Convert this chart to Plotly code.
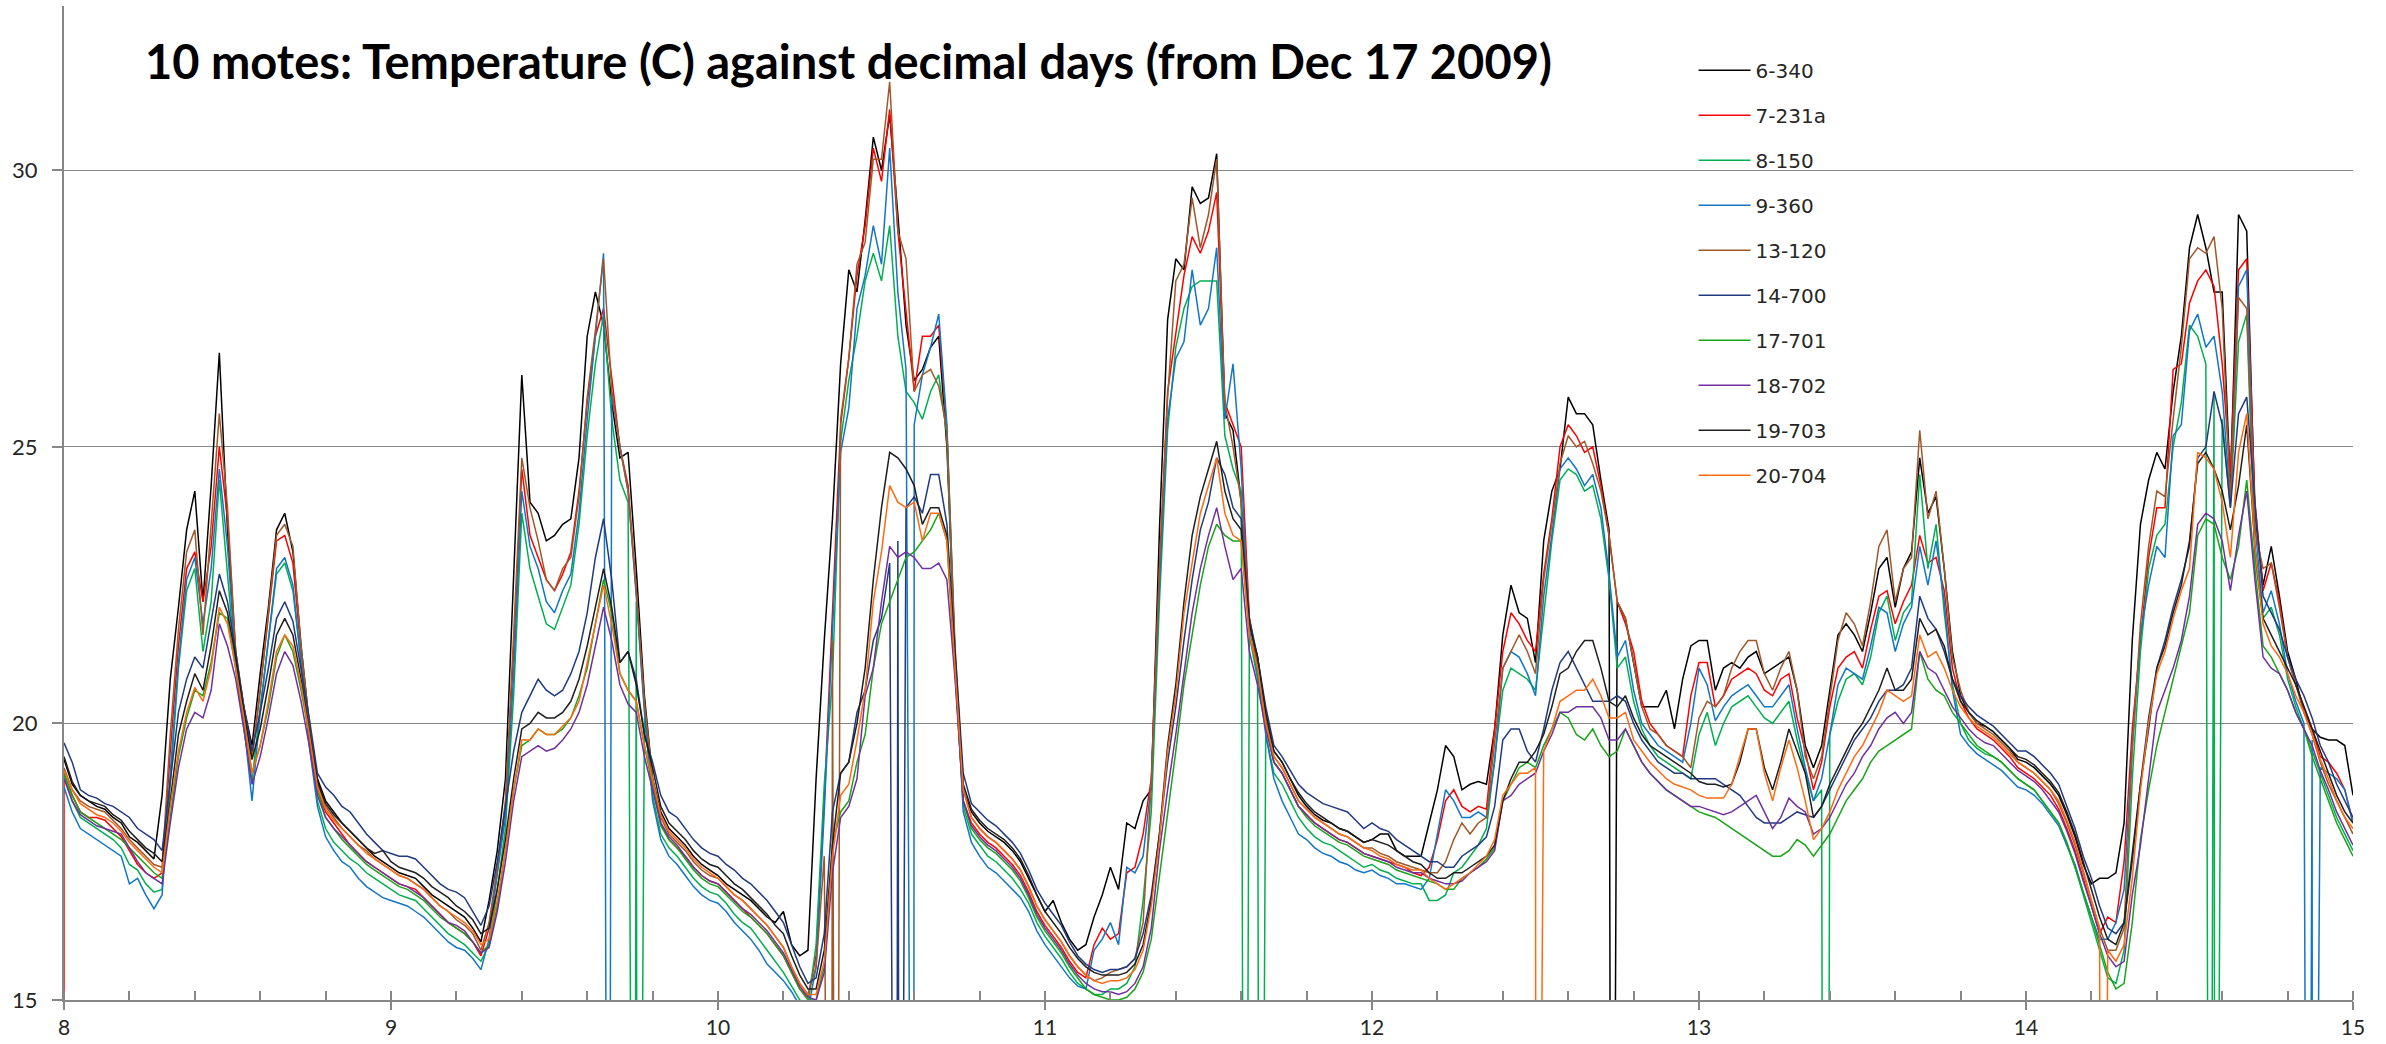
import numpy as np
import plotly.graph_objects as go

# decimal days (from Dec 17 2009), sampled every 0.025 day
days = np.round(np.arange(8.0, 15.0 + 1e-9, 0.025), 3).tolist()

series_names = ["6-340", "7-231a", "8-150", "9-360", "13-120",
                "14-700", "17-701", "18-702", "19-703", "20-704"]
series_colors = ["#000000", "#FF0000", "#00B050", "#1276C8", "#A0582A",
                 "#203A80", "#18A518", "#7030A0", "#1E1E1E", "#FF6A10"]

t_6_340 = [
    19.35, 18.9, 18.7, 18.6, 18.5, 18.45, 18.3, 18.2, 17.95, 17.85,
    17.7, 17.55, 18.7, 20.8, 22.1, 23.5, 24.2, 22.2, 24.3, 26.7,
    23.5, 21.2, 20.3, 19.6, 20.9, 22.1, 23.5, 23.8, 23.1, 21.4,
    20.0, 19.0, 18.6, 18.4, 18.2, 18.05, 17.9, 17.75, 17.6, 17.5,
    17.4, 17.3, 17.25, 17.2, 17.05, 16.9, 16.8, 16.7, 16.6, 16.5,
    16.3, 16.05, 16.8, 17.7, 19.0, 22.5, 26.3, 24.0, 23.8, 23.3,
    23.4, 23.6, 23.7, 24.8, 27.0, 27.8, 27.2, 25.8, 24.8, 24.9,
    22.8, 20.5, 19.0, 18.4, 18.1, 17.95, 17.8, 17.6, 17.45, 17.35,
    17.25, 17.1, 17.0, 16.9, 16.8, 16.65, 16.5, 16.4, 16.6, 16.0,
    15.8, 15.9, 19.0, 21.5, 23.7, 26.5, 28.2, 27.8, 29.1, 30.6,
    30.0, 31.0, 29.2, 27.2, 26.2, 26.4, 26.8, 27.0, 25.0, 21.2,
    18.8, 18.4, 18.2, 18.05, 17.95, 17.85, 17.7, 17.5, 17.2, 16.9,
    16.6, 16.8, 16.4, 16.1, 15.9, 16.0, 16.5, 16.9, 17.4, 17.0,
    18.2, 18.1, 18.6, 18.8, 23.5, 27.3, 28.4, 28.2, 29.7, 29.4,
    29.5, 30.3, 25.6, 25.3, 24.0, 21.8, 21.2, 20.1, 19.5, 19.3,
    19.0, 18.7, 18.5, 18.35, 18.25, 18.2, 18.1, 18.05, 17.95, 17.85,
    17.9, 18.0, 18.0, 17.7, 17.6, 17.6, 17.6, 18.2, 18.8, 19.6,
    19.4, 18.8, 18.9, 18.95, 18.9, 19.9, 21.6, 22.5, 22.0, 21.9,
    21.1, 23.3, 24.2, 24.6, 25.9, 25.6, 25.6, 25.4, 24.4, 23.5,
    22.2, 21.9, 21.1, 20.3, 20.3, 20.3, 20.6, 19.9, 20.8, 21.4,
    21.5, 21.5, 20.6, 21.0, 21.1, 21.0, 21.2, 21.3, 20.9, 21.0,
    21.1, 21.2, 20.6, 19.6, 19.2, 19.6, 20.6, 21.6, 21.8, 21.6,
    21.3, 22.0, 22.8, 23.0, 22.1, 22.8, 23.1, 24.8, 23.8, 24.1,
    22.8, 21.3, 20.5, 20.2, 20.0, 19.95, 19.85, 19.7, 19.55, 19.35,
    19.3, 19.2, 19.05, 18.9, 18.7, 18.35, 17.95, 17.45, 17.1, 17.2,
    17.2, 17.3, 18.2, 21.5, 23.6, 24.4, 24.9, 24.6, 26.0, 27.0,
    28.6, 29.2, 28.6, 27.8, 27.8, 24.3, 29.2, 28.9, 23.8, 22.5,
    23.2, 22.3, 21.3, 20.8, 20.2, 19.9, 19.75, 19.7, 19.7, 19.6,
    18.7]

t_7_231a = [
    19.1, 18.7, 18.4, 18.3, 18.3, 18.25, 18.1, 17.95, 17.7, 17.45,
    17.3, 17.2, 17.3, 19.5, 21.4, 22.8, 23.1, 22.2, 23.2, 25.0,
    23.7, 21.3, 20.2, 19.35, 20.6, 21.9, 23.3, 23.4, 22.9, 21.3,
    19.9, 18.8, 18.4, 18.2, 18.0, 17.8, 17.65, 17.5, 17.4, 17.3,
    17.2, 17.1, 17.05, 17.0, 16.85, 16.7, 16.55, 16.4, 16.3, 16.2,
    16.05, 15.8, 16.3, 17.3, 18.5, 21.3, 24.6, 23.4, 23.0, 22.6,
    22.4, 22.7, 23.1, 24.2, 25.8, 27.0, 27.5, 26.3, 25.0, 24.3,
    22.4, 20.3, 18.9, 18.2, 17.9, 17.75, 17.6, 17.4, 17.25, 17.15,
    17.1, 16.95, 16.8, 16.65, 16.5, 16.35, 16.2, 16.0, 15.8, 15.5,
    15.2, 15.05, 15.8, 18.6, 22.0, 25.4, 26.6, 28.1, 29.0, 30.4,
    29.8, 31.1, 28.9, 27.4, 26.0, 27.0, 27.0, 27.2, 25.3, 21.0,
    18.6, 18.2, 18.0, 17.85, 17.75, 17.6, 17.45, 17.25, 16.95, 16.6,
    16.35, 16.15, 15.95, 15.7, 15.5, 15.4, 16.0, 16.3, 16.1, 16.2,
    17.3, 17.4, 18.0, 19.0, 22.8, 26.0, 27.1, 28.1, 28.8, 28.5,
    28.9, 29.6, 25.8, 25.4, 25.0, 21.9, 21.0, 20.0, 19.3, 19.1,
    18.8, 18.5, 18.35, 18.2, 18.1, 18.0, 17.9, 17.85, 17.75, 17.65,
    17.6, 17.55, 17.5, 17.45, 17.4, 17.3, 17.25, 17.4, 17.9, 18.6,
    18.8, 18.5, 18.4, 18.5, 18.45, 19.9, 21.3, 22.0, 21.8, 21.5,
    21.3, 22.7, 23.7, 25.0, 25.4, 25.2, 24.9, 25.0, 24.3, 23.4,
    22.2, 21.8, 21.3, 20.4, 20.0, 19.8, 19.6, 19.5, 19.4, 20.5,
    21.1, 21.1, 20.3, 20.5, 20.8, 20.9, 21.0, 20.9, 20.6, 20.5,
    20.8, 20.9, 20.1, 19.5, 18.8, 19.3, 20.3, 21.0, 21.2, 21.3,
    21.0, 21.7, 22.3, 22.4, 21.8, 22.2, 22.5, 23.4, 22.9, 23.0,
    22.4, 21.0, 20.4, 20.1, 19.9, 19.8, 19.7, 19.55, 19.4, 19.2,
    19.1, 19.0, 18.85, 18.7, 18.45, 18.1, 17.7, 17.2, 16.7, 16.2,
    16.5, 16.4, 17.5, 19.9, 21.5, 23.0, 23.9, 23.9, 26.4, 26.5,
    27.6, 28.0, 28.2, 27.9, 26.5, 24.5, 28.2, 28.4, 24.0, 22.4,
    22.9, 22.2, 21.2, 20.7, 20.3, 19.9, 19.4, 19.3, 19.1, 18.8,
    18.2]

t_8_150 = [
    19.05, 18.6, 18.3, 18.2, 18.1, 18.0, 17.9, 17.75, 17.45, 17.35,
    17.1, 16.95, 17.0, 18.9, 21.0, 22.4, 22.8, 21.3, 22.2, 24.4,
    22.7, 21.0, 19.9, 18.95, 20.3, 21.5, 22.7, 22.9, 22.4, 21.1,
    19.7, 18.6, 18.1, 17.85, 17.7, 17.55, 17.45, 17.3, 17.2, 17.1,
    17.0, 16.9, 16.85, 16.8, 16.65, 16.5, 16.35, 16.2, 16.1, 16.0,
    15.85, 15.7, 16.0, 17.0, 18.1, 20.5, 23.8, 22.8, 22.3, 21.8,
    21.7, 22.1, 22.5, 23.6, 25.2, 26.5, 27.4, 25.5, 24.4, 24.0,
    22.2, 20.1, 18.7, 18.0, 17.75, 17.6, 17.4, 17.2, 17.05, 16.95,
    16.9, 16.75, 16.55, 16.4, 16.3, 16.1, 15.9, 15.7, 15.5, 15.25,
    15.0, 14.9, 16.0, 18.9, 20.8, 25.1, 26.2, 27.0, 28.0, 28.5,
    28.0, 29.0, 27.0, 26.0, 25.8, 25.5, 26.0, 26.3, 25.2, 21.0,
    18.5, 18.0, 17.8, 17.6, 17.5, 17.35, 17.2, 17.0, 16.75, 16.4,
    16.15, 15.95, 15.75, 15.5, 15.3, 15.2, 15.1, 15.1, 15.2, 15.2,
    15.3, 15.6, 16.8, 18.4, 22.2, 25.3, 26.8, 27.5, 27.9, 28.0,
    28.0, 28.0, 25.2, 24.6, 24.2, 21.6, 20.8, 19.8, 19.1, 18.9,
    18.6, 18.3, 18.1, 17.95, 17.85, 17.8, 17.7, 17.6, 17.5, 17.4,
    17.45, 17.35, 17.3, 17.2, 17.15, 17.1, 17.1, 16.8, 16.8, 16.9,
    17.3, 17.4, 17.6, 17.8, 18.1, 19.4, 20.6, 21.0, 20.9, 20.8,
    20.6, 22.0, 23.3, 24.4, 24.6, 24.5, 24.2, 24.3, 23.7, 22.6,
    21.0, 21.2, 20.4, 19.9, 19.6, 19.4, 19.3, 19.2, 19.1, 19.0,
    19.8, 20.2, 19.6, 20.0, 20.3, 20.4, 20.5, 20.3, 20.1, 20.0,
    20.2, 20.4, 19.7, 19.1, 18.6, 18.8, 19.8, 20.4, 20.8, 20.9,
    20.7, 21.2, 22.0, 22.3, 21.5, 22.0, 22.2, 24.5, 22.8, 23.6,
    22.0, 20.7, 20.0, 19.7, 19.55, 19.45, 19.4, 19.3, 19.15, 19.0,
    18.9, 18.8, 18.6, 18.4, 18.2, 17.8, 17.4, 16.9, 16.4, 15.9,
    15.4, 15.3, 15.9, 19.0, 21.3, 22.8, 23.4, 23.6, 25.0, 25.8,
    27.2, 27.0, 26.5, 26.0, 25.5, 23.9, 26.9, 27.4, 23.0, 21.9,
    22.1, 21.6, 20.8, 20.3, 19.9, 19.5, 19.1, 18.7, 18.3, 18.0,
    17.7]

t_9_360 = [
    18.85, 18.4, 18.1, 18.0, 17.9, 17.8, 17.7, 17.6, 17.1, 17.2,
    16.9, 16.65, 16.9, 19.1, 21.1, 22.6, 23.0, 21.8, 22.8, 24.6,
    23.2, 21.1, 20.0, 18.6, 20.2, 21.5, 22.8, 23.0, 22.5, 21.1,
    19.6, 18.5, 17.95, 17.7, 17.5, 17.4, 17.2, 17.05, 16.95, 16.85,
    16.8, 16.75, 16.7, 16.6, 16.5, 16.35, 16.2, 16.05, 15.95, 15.9,
    15.75, 15.55, 16.1, 17.3, 18.3, 20.9, 24.2, 23.2, 22.8, 22.2,
    22.0, 22.4, 22.7, 23.8, 25.5, 27.0, 28.5, 26.0, 25.0, 24.2,
    22.3, 20.2, 18.6, 17.9, 17.6, 17.45, 17.25, 17.05, 16.9, 16.8,
    16.75, 16.6, 16.4, 16.25, 16.1, 15.9, 15.65, 15.5, 15.35, 15.15,
    14.9, 14.8, 15.6, 18.4, 21.6, 24.9, 25.7, 27.5, 28.1, 29.0,
    28.3, 30.4, 27.8, 26.4, 25.4, 26.3, 26.8, 27.4, 25.4, 21.2,
    18.4, 17.85, 17.6, 17.4, 17.3, 17.15, 17.0, 16.85, 16.6, 16.25,
    16.0, 15.8, 15.6, 15.4, 15.25, 15.2, 15.9, 16.1, 16.4, 16.0,
    17.4, 17.3, 17.6, 18.9, 22.5, 25.5, 26.6, 26.9, 28.2, 27.2,
    27.5, 28.6, 25.5, 26.5, 24.6, 21.7, 20.9, 19.8, 19.0, 18.6,
    18.3, 18.0, 17.9, 17.75, 17.65, 17.6, 17.5, 17.45, 17.35, 17.3,
    17.35, 17.25, 17.2, 17.1, 17.1, 17.05, 17.0, 17.2, 18.0, 18.8,
    18.6, 18.3, 18.3, 18.4, 18.3, 19.3, 21.0, 21.3, 21.2, 20.9,
    20.5, 22.3, 23.4, 24.6, 24.8, 24.6, 24.3, 24.5, 23.9, 22.7,
    21.2, 21.5, 20.6, 20.0, 19.8, 19.6, 19.5, 19.4, 19.3, 20.0,
    21.0, 20.7, 20.05, 20.3, 20.5, 20.6, 20.7, 20.5, 20.3, 20.3,
    20.5, 20.7, 19.9, 19.2, 18.6, 19.0, 19.8, 20.7, 21.0, 20.9,
    20.8, 21.4, 22.1, 22.0, 21.3, 21.8, 22.1, 23.2, 22.5, 23.3,
    22.2, 20.6, 19.8, 19.6, 19.45, 19.35, 19.25, 19.15, 19.0, 18.85,
    18.8, 18.7, 18.55, 18.35, 18.15, 17.8, 17.45, 16.95, 16.5, 16.1,
    16.1, 16.4, 17.0, 19.6, 21.6, 22.5, 23.2, 23.0, 25.2, 25.4,
    27.1, 27.4, 26.8, 27.0, 26.0, 24.0, 27.9, 28.2, 23.6, 22.0,
    22.4, 21.8, 20.9, 20.4, 20.0, 19.7, 19.2, 19.1, 19.0, 18.8,
    18.2]

t_13_120 = [
    19.2, 18.8, 18.6, 18.5, 18.45, 18.4, 18.25, 18.1, 17.9, 17.75,
    17.6, 17.45, 17.4, 19.8, 21.7, 23.1, 23.5, 21.6, 23.6, 25.6,
    23.9, 21.3, 20.3, 19.4, 20.6, 22.0, 23.4, 23.6, 23.2, 21.4,
    20.0, 18.9, 18.5, 18.3, 18.1, 17.95, 17.8, 17.7, 17.55, 17.45,
    17.35, 17.25, 17.2, 17.1, 17.0, 16.85, 16.7, 16.6, 16.45, 16.35,
    16.2, 15.9, 16.4, 17.4, 18.6, 21.6, 24.8, 23.9, 23.3, 22.6,
    22.4, 22.8, 23.0, 24.1, 25.9, 27.1, 28.4, 26.0, 25.0, 24.2,
    22.4, 20.4, 19.0, 18.3, 18.0, 17.85, 17.7, 17.5, 17.35, 17.25,
    17.2, 17.05, 16.9, 16.8, 16.65, 16.5, 16.35, 16.15, 15.95, 15.6,
    15.3, 15.1, 15.6, 17.6, 21.5, 25.5, 26.6, 28.3, 28.7, 30.2,
    30.2, 31.6, 28.9, 28.4, 26.0, 26.3, 26.4, 26.1, 25.3, 21.4,
    18.8, 18.3, 18.1, 17.95, 17.85, 17.7, 17.55, 17.35, 17.05, 16.7,
    16.45, 16.25, 16.05, 15.8, 15.6, 15.45, 15.35, 15.4, 15.5, 15.55,
    15.6, 15.75, 16.4, 18.9, 22.8, 25.9, 28.0, 28.3, 29.5, 28.6,
    29.2, 30.2, 25.8, 25.0, 24.0, 21.9, 21.1, 20.1, 19.4, 19.2,
    18.9, 18.6, 18.45, 18.3, 18.2, 18.1, 18.0, 17.95, 17.85, 17.75,
    17.75, 17.65, 17.6, 17.5, 17.45, 17.4, 17.35, 17.3, 17.3, 17.5,
    17.9, 18.2, 18.0, 18.2, 18.3, 19.7, 21.0, 21.3, 21.6, 21.3,
    20.9, 22.6, 23.6, 24.7, 25.2, 25.0, 25.1, 24.7, 24.2, 23.4,
    22.2, 21.9, 21.1, 20.3, 19.9, 19.8, 19.6, 19.5, 19.4, 19.2,
    20.1, 20.4, 20.3, 20.5, 21.0, 21.3, 21.5, 21.5, 20.9, 20.6,
    21.0, 21.3, 20.6, 19.4, 19.0, 19.4, 20.5, 21.5, 22.0, 21.8,
    21.4, 22.2, 23.2, 23.5, 22.2, 22.8, 23.0, 25.3, 23.7, 24.2,
    22.8, 21.2, 20.6, 20.2, 20.0, 19.9, 19.8, 19.65, 19.5, 19.3,
    19.2, 19.1, 18.95, 18.8, 18.55, 18.2, 17.8, 17.3, 16.8, 16.3,
    15.9, 15.9, 16.3, 19.5, 21.8, 23.2, 24.2, 24.1, 25.5, 26.8,
    28.4, 28.6, 28.5, 28.8, 27.5, 24.0, 27.7, 27.5, 23.5, 22.8,
    22.9, 22.1, 21.2, 20.7, 20.2, 19.8, 19.3, 18.9, 18.6, 18.3,
    18.0]

t_14_700 = [
    19.65, 19.3, 18.8, 18.7, 18.65, 18.55, 18.5, 18.4, 18.3, 18.1,
    18.0, 17.9, 17.7, 18.9, 20.2, 20.8, 21.2, 21.0, 21.85, 22.7,
    22.2, 21.3, 20.3, 19.5, 20.2, 21.0, 21.9, 22.2, 21.85, 21.0,
    20.1, 19.1, 18.85, 18.7, 18.5, 18.4, 18.2, 18.0, 17.85, 17.7,
    17.65, 17.6, 17.6, 17.55, 17.4, 17.25, 17.1, 17.0, 16.95, 16.85,
    16.6, 16.35, 16.7, 17.5, 18.5, 19.5, 20.2, 20.5, 20.8, 20.6,
    20.5, 20.6, 20.9, 21.3, 22.0, 23.0, 23.7, 22.6, 21.1, 21.3,
    20.8, 19.8, 19.3, 18.7, 18.4, 18.3, 18.1, 17.9, 17.75, 17.65,
    17.6, 17.45, 17.35, 17.2, 17.1, 16.95, 16.8, 16.6, 16.4, 16.0,
    15.6, 15.3, 15.4, 16.2, 18.4, 19.1, 19.3, 20.2, 20.6, 21.5,
    21.9, 22.9, 23.3, 23.9, 24.1, 23.8, 24.5, 24.5, 23.6, 21.3,
    19.1, 18.55, 18.4, 18.25, 18.15, 18.0, 17.85, 17.65, 17.35, 17.0,
    16.75, 16.55, 16.35, 16.05, 15.8, 15.65, 15.55, 15.5, 15.55, 15.55,
    15.6, 15.75, 16.2, 16.9, 18.0, 19.3, 20.3, 21.5, 22.6, 23.5,
    24.0, 24.8, 24.5, 23.9, 23.7, 21.9, 21.2, 20.3, 19.6, 19.4,
    19.15, 18.9, 18.75, 18.65, 18.55, 18.5, 18.45, 18.4, 18.25, 18.1,
    18.2, 18.1, 18.05, 17.9, 17.8, 17.7, 17.6, 17.5, 17.5, 17.4,
    17.4, 17.6, 17.7, 17.8, 17.95, 18.5, 19.7, 19.9, 19.9, 19.5,
    19.3, 19.9, 20.6, 21.1, 21.3, 21.0, 20.7, 20.4, 20.4, 20.4,
    20.5, 20.4, 20.0, 19.7, 19.5, 19.3, 19.2, 19.1, 19.1, 19.0,
    19.0, 19.0, 19.0, 18.9, 18.8, 18.7, 18.5, 18.3, 18.2, 18.2,
    18.2, 18.3, 18.4, 18.35, 18.3, 18.5, 18.8, 19.1, 19.4, 19.7,
    19.9, 20.1, 20.4, 20.6, 20.6, 20.7, 21.0, 22.3, 21.9, 21.7,
    21.3, 20.8, 20.5, 20.3, 20.15, 20.05, 19.95, 19.8, 19.65, 19.5,
    19.5, 19.4, 19.25, 19.1, 18.9, 18.5, 18.1, 17.6, 17.2, 16.7,
    16.3, 16.2, 16.4, 17.5, 18.9, 20.1, 21.0, 21.5, 22.1, 22.6,
    23.2, 24.8, 25.0, 26.0, 25.4, 23.9, 25.6, 25.9, 24.0, 22.3,
    22.0, 21.7, 21.2, 20.8, 20.5, 20.1, 19.6, 19.3, 18.9, 18.6,
    18.3]

t_17_701 = [
    19.1, 18.7, 18.4, 18.3, 18.2, 18.1, 18.0, 17.9, 17.75, 17.6,
    17.45, 17.3, 17.2, 18.3, 19.4, 20.1, 20.6, 20.5, 21.1, 22.0,
    21.9, 21.0, 20.1, 19.1, 19.6, 20.3, 21.2, 21.6, 21.3, 20.6,
    19.8, 18.8, 18.3, 18.1, 17.9, 17.75, 17.6, 17.45, 17.35, 17.25,
    17.15, 17.05, 17.0, 16.9, 16.8, 16.65, 16.5, 16.4, 16.3, 16.2,
    16.05, 15.85, 16.0, 16.7, 17.7, 18.8, 19.6, 19.7, 19.9, 19.8,
    19.8, 19.9, 20.1, 20.5, 21.0, 21.8, 22.6, 22.0, 20.9, 20.6,
    20.4, 19.6, 18.9, 18.15, 17.9, 17.75, 17.55, 17.35, 17.2, 17.1,
    17.05, 16.9, 16.75, 16.6, 16.5, 16.35, 16.2, 16.0, 15.8, 15.5,
    15.2, 15.0, 15.0, 15.6, 17.8, 18.4, 18.6, 19.3, 19.8, 21.0,
    21.8, 22.2, 22.6, 23.0, 23.1, 23.3, 23.5, 23.8, 23.3, 20.9,
    18.6, 18.1, 17.9, 17.75, 17.65, 17.5, 17.35, 17.15, 16.85, 16.5,
    16.25, 16.05, 15.85, 15.6, 15.4, 15.2, 15.1, 15.05, 15.0, 15.0,
    15.05, 15.2, 15.5, 16.1, 17.2, 18.3, 19.5, 20.7, 21.6, 22.5,
    23.2, 23.6, 23.4, 23.3, 23.3, 21.6, 21.0, 20.0, 19.3, 19.1,
    18.8, 18.5, 18.3, 18.15, 18.05, 17.95, 17.85, 17.8, 17.7, 17.6,
    17.55, 17.5, 17.45, 17.35, 17.3, 17.25, 17.2, 17.15, 17.1, 17.0,
    17.0, 17.2, 17.3, 17.4, 17.55, 17.75, 18.6, 18.9, 19.2, 19.3,
    19.2, 19.6, 19.9, 20.2, 20.1, 19.8, 19.7, 19.9, 19.6, 19.4,
    19.5, 19.9, 19.6, 19.3, 19.1, 18.95, 18.8, 18.7, 18.6, 18.5,
    18.4, 18.35, 18.3, 18.2, 18.1, 18.0, 17.9, 17.8, 17.7, 17.6,
    17.6, 17.7, 17.9, 17.8, 17.6, 17.8, 18.0, 18.3, 18.6, 18.8,
    19.0, 19.3, 19.5, 19.6, 19.7, 19.8, 19.9, 21.3, 20.8, 20.6,
    20.5, 20.2, 20.0, 19.8, 19.6, 19.5, 19.4, 19.3, 19.15, 19.0,
    18.9, 18.8, 18.6, 18.4, 18.2, 17.85, 17.4, 16.95, 16.5, 16.0,
    15.5, 15.2, 15.3, 16.4, 17.9, 18.8, 19.6, 20.2, 20.8, 21.4,
    22.0, 23.4, 23.7, 23.6, 23.0, 22.6, 23.2, 24.4, 22.8, 21.4,
    21.2, 20.9, 20.6, 20.2, 19.9, 19.4, 19.0, 18.6, 18.2, 17.9,
    17.6]

t_18_702 = [
    19.0, 18.6, 18.35, 18.25, 18.15, 18.1, 18.05, 18.0, 17.75, 17.5,
    17.3, 17.2, 17.1, 18.2, 19.2, 19.9, 20.2, 20.1, 20.6, 21.8,
    21.4, 20.8, 19.9, 18.9, 19.4, 20.1, 20.9, 21.3, 21.05, 20.4,
    19.6, 18.7, 18.3, 18.1, 17.95, 17.8, 17.65, 17.5, 17.4, 17.3,
    17.2, 17.1, 17.05, 16.95, 16.85, 16.7, 16.55, 16.4, 16.35, 16.25,
    16.05, 15.85, 15.95, 16.6, 17.5, 18.6, 19.4, 19.5, 19.6, 19.5,
    19.55, 19.7, 19.9, 20.2, 20.7, 21.4, 22.1, 21.5, 20.7, 20.35,
    20.2, 19.4, 18.8, 18.2, 17.95, 17.8, 17.6, 17.4, 17.25, 17.15,
    17.1, 16.95, 16.8, 16.65, 16.55, 16.4, 16.25, 16.05, 15.85, 15.55,
    15.25, 15.05, 15.0, 15.5, 17.3, 18.3, 18.5, 19.0, 20.5, 21.0,
    22.2, 23.2, 23.0, 23.1, 23.0, 22.8, 22.8, 22.9, 22.6, 20.8,
    18.6, 18.15, 17.95, 17.8, 17.7, 17.55, 17.4, 17.2, 16.9, 16.55,
    16.3, 16.1, 15.9, 15.65, 15.45, 15.3, 15.2, 15.15, 15.15, 15.1,
    15.15, 15.3, 15.6, 16.3, 17.7, 18.8, 19.8, 20.9, 22.0, 22.8,
    23.4, 23.9, 23.2, 22.6, 22.8, 21.3, 20.7, 19.9, 19.3, 19.1,
    18.8, 18.5, 18.35, 18.2, 18.1, 18.0, 17.9, 17.85, 17.75, 17.65,
    17.6, 17.55, 17.5, 17.4, 17.35, 17.3, 17.3, 17.2, 17.15, 17.1,
    17.1, 17.15, 17.3, 17.4, 17.5, 17.7, 18.6, 18.7, 18.9, 19.0,
    19.1, 19.5, 19.8, 20.2, 20.2, 20.3, 20.3, 20.3, 20.1, 19.7,
    19.7, 19.9, 19.6, 19.3, 19.1, 18.95, 18.8, 18.7, 18.6, 18.5,
    18.5, 18.45, 18.4, 18.35, 18.4, 18.5, 18.6, 18.7, 18.4, 18.1,
    18.3, 18.65, 18.5, 18.4, 18.0, 18.1, 18.3, 18.6, 18.9, 19.1,
    19.4, 19.6, 19.9, 20.1, 20.2, 20.0, 20.2, 21.3, 21.0, 20.9,
    20.6, 20.3, 20.1, 19.9, 19.75, 19.65, 19.6, 19.45, 19.3, 19.15,
    19.05, 18.95, 18.8, 18.6, 18.4, 18.05, 17.65, 17.15, 16.7, 16.2,
    15.8, 15.6, 15.7, 16.9, 17.8, 19.0, 20.2, 20.6, 21.0, 21.5,
    22.3, 23.6, 23.8, 23.7, 23.3, 22.4, 23.4, 24.2, 22.6, 21.2,
    21.0, 20.9, 20.6, 20.2, 19.9, 19.6, 19.15, 18.8, 18.4, 18.1,
    17.8]

t_19_703 = [
    19.4, 18.95, 18.7, 18.6, 18.55, 18.5, 18.35, 18.25, 18.05, 17.9,
    17.75, 17.65, 17.5, 18.6, 19.8, 20.4, 20.9, 20.6, 21.4, 22.4,
    22.0, 21.2, 20.2, 19.35, 19.9, 20.7, 21.6, 21.9, 21.6, 20.8,
    19.9, 18.95, 18.55, 18.35, 18.2, 18.05, 17.9, 17.75, 17.65, 17.7,
    17.5, 17.4, 17.35, 17.3, 17.2, 17.05, 16.95, 16.85, 16.7, 16.6,
    16.45, 16.2, 16.3, 17.0, 17.9, 19.0, 19.9, 20.0, 20.2, 20.1,
    20.1, 20.2, 20.4, 20.8, 21.4, 22.1, 22.8, 22.1, 21.1, 21.3,
    20.7, 19.8, 19.2, 18.5, 18.2, 18.05, 17.9, 17.7, 17.55, 17.45,
    17.4, 17.25, 17.1, 17.0, 16.85, 16.7, 16.55, 16.35, 16.2, 15.8,
    15.45, 15.2, 15.2, 15.9, 17.8, 19.1, 19.3, 20.0, 21.0, 22.6,
    23.9, 24.9, 24.8, 24.6, 24.3, 23.6, 23.9, 23.9, 23.4, 21.2,
    18.9, 18.45, 18.25, 18.1, 18.0, 17.9, 17.75, 17.55, 17.25, 16.9,
    16.6, 16.4, 16.2, 15.95, 15.75, 15.6, 15.5, 15.45, 15.45, 15.45,
    15.5, 15.65, 16.0, 16.8, 18.0, 19.6, 20.7, 22.2, 23.4, 24.1,
    24.6, 25.1, 24.2, 23.7, 23.5, 21.8, 21.2, 20.2, 19.5, 19.3,
    19.0, 18.75, 18.55, 18.4, 18.3, 18.2, 18.1, 18.05, 17.95, 17.85,
    17.9, 17.85, 17.8, 17.7, 17.6, 17.5, 17.45, 17.3, 17.2, 17.2,
    17.3, 17.3, 17.4, 17.5, 17.6, 17.8, 18.6, 19.0, 19.3, 19.3,
    19.5, 19.8, 20.3, 20.9, 21.0, 21.3, 21.5, 21.5, 21.0, 20.4,
    20.3, 20.5, 20.1, 19.8, 19.6, 19.5, 19.4, 19.3, 19.2, 19.1,
    18.95, 18.9, 18.9, 18.85, 18.9, 19.3, 19.9, 19.9, 19.2, 18.8,
    19.3, 19.9, 19.5, 19.1, 18.3, 18.5, 18.9, 19.2, 19.5, 19.8,
    20.0, 20.3, 20.6, 21.0, 20.6, 20.6, 20.8, 21.9, 21.6, 21.7,
    21.4, 20.8, 20.4, 20.2, 20.05, 19.95, 19.85, 19.7, 19.55, 19.4,
    19.35, 19.25, 19.1, 18.95, 18.75, 18.4, 18.0, 17.5, 17.0, 16.5,
    16.1, 16.0, 16.4, 17.6, 18.9, 19.9, 21.0, 21.4, 22.0, 22.5,
    23.3, 24.7, 24.9, 24.6, 24.2, 23.5, 24.3, 25.4, 23.2, 21.9,
    21.6, 21.3, 21.0, 20.7, 20.3, 19.9, 19.5, 19.1, 18.7, 18.4,
    18.2]

t_20_704 = [
    19.15, 18.8, 18.55, 18.45, 18.35, 18.3, 18.2, 18.05, 17.85, 17.7,
    17.55, 17.4, 17.3, 18.5, 19.5, 20.2, 20.65, 20.4, 21.0, 22.1,
    21.8, 21.0, 20.1, 19.1, 19.6, 20.4, 21.3, 21.6, 21.4, 20.7,
    19.8, 18.85, 18.45, 18.25, 18.1, 17.95, 17.8, 17.65, 17.55, 17.45,
    17.35, 17.25, 17.2, 17.1, 17.0, 16.85, 16.7, 16.6, 16.5, 16.4,
    16.25, 16.0, 16.1, 16.8, 17.7, 18.8, 19.7, 19.7, 19.9, 19.8,
    19.8, 19.95, 20.1, 20.4, 21.1, 21.8, 22.5, 21.8, 20.9, 20.6,
    20.4, 19.6, 19.0, 18.35, 18.05, 17.9, 17.75, 17.55, 17.4, 17.3,
    17.2, 17.05, 16.9, 16.8, 16.65, 16.5, 16.35, 16.15, 15.95, 15.6,
    15.3, 15.1, 15.1, 15.7, 17.6, 18.7, 18.9, 19.7, 20.6, 22.2,
    23.1, 24.3, 24.0, 23.9, 24.0, 23.3, 23.8, 23.8, 23.3, 21.0,
    18.8, 18.3, 18.1, 17.95, 17.85, 17.7, 17.55, 17.35, 17.05, 16.7,
    16.45, 16.25, 16.05, 15.8, 15.6, 15.45, 15.35, 15.3, 15.35, 15.35,
    15.4, 15.55, 15.9, 16.7, 17.9, 19.5, 20.5, 22.0, 22.9, 23.8,
    24.3, 24.8, 23.8, 23.4, 23.3, 21.6, 21.0, 20.0, 19.4, 19.2,
    18.9, 18.6, 18.45, 18.3, 18.2, 18.1, 18.0, 17.95, 17.85, 17.75,
    17.7, 17.6, 17.55, 17.45, 17.4, 17.35, 17.35, 17.2, 17.1, 17.0,
    17.1, 17.2, 17.3, 17.45, 17.6, 17.9, 18.7, 18.9, 19.1, 19.1,
    19.2, 19.5, 19.9, 20.4, 20.5, 20.6, 20.6, 20.8, 20.5, 20.1,
    20.1, 20.2, 19.7, 19.5, 19.3, 19.15, 19.0, 18.9, 18.85, 18.8,
    18.7, 18.65, 18.65, 18.65, 18.9, 19.4, 19.9, 19.9, 19.1, 18.6,
    19.2, 19.7, 19.2, 18.6, 17.9, 18.1, 18.4, 18.8, 19.1, 19.4,
    19.6, 19.9, 20.2, 20.6, 20.5, 20.4, 20.5, 21.6, 21.2, 21.3,
    21.0, 20.6, 20.3, 20.1, 19.95, 19.85, 19.75, 19.6, 19.45, 19.3,
    19.2, 19.1, 18.95, 18.8, 18.6, 18.25, 17.85, 17.35, 16.8, 16.3,
    15.9, 15.7, 16.0, 17.2, 18.8, 20.0, 20.9, 21.3, 21.9, 22.4,
    22.8, 24.9, 24.8, 24.6, 24.0, 23.0, 24.9, 25.6, 23.2, 21.8,
    21.4, 21.2, 20.9, 20.5, 20.2, 19.8, 19.35, 19.0, 18.6, 18.3,
    18.1]

# sensor dropouts (readings of 0 C) per mote: times in decimal days
dropouts = {
    "6-340": [12.733],
    "7-231a": [8.0],
    "8-150": [9.744, 9.754, 11.611, 11.658, 13.382, 13.392, 14.562, 14.578],
    "9-360": [9.665, 10.598, 14.863, 14.876],
    "13-120": [10.346, 10.361],
    "14-700": [10.545, 10.556],
    "20-704": [12.502, 14.232],
}

series_values = [t_6_340, t_7_231a, t_8_150, t_9_360, t_13_120,
                 t_14_700, t_17_701, t_18_702, t_19_703, t_20_704]

for nm, vals in zip(series_names, series_values):
    if len(vals) != len(days):
        raise ValueError(f"{nm}: {len(vals)} values vs {len(days)} days")

fig = go.Figure()
for nm, col, vals in zip(series_names, series_colors, series_values):
    pts = [(t, 1, v) for t, v in zip(days, vals)]
    pts += [(t, 0, 0.0) for t in dropouts.get(nm, [])]
    pts.sort(key=lambda p: (p[0], p[1]))
    fig.add_trace(go.Scatter(
        x=[p[0] for p in pts], y=[p[2] for p in pts],
        mode="lines", name=nm, legendgroup=nm,
        line=dict(color=col, width=1.5),
    ))

axis_gray = "#878787"
fig.update_layout(
    width=2386, height=1044,
    margin=dict(l=64, r=33, t=6, b=44, autoexpand=False),
    paper_bgcolor="white", plot_bgcolor="white",
    font=dict(family="Lato", size=22, color="#262626"),
    title=dict(
        text="10 motes: Temperature (C) against decimal days (from Dec 17 2009)",
        font=dict(family="Lato", size=47, color="#000000", weight="bold"),
        xref="container", yref="container",
        x=145 / 2386, xanchor="left", y=1 - 63 / 1044, yanchor="middle",
    ),
    showlegend=True,
    legend=dict(
        x=0.7119, y=0.955, xanchor="left", yanchor="top",
        bgcolor="rgba(0,0,0,0)", borderwidth=0,
        font=dict(family="DejaVu Sans", size=20, color="#262626"),
        itemwidth=52, tracegroupgap=16,
    ),
)
fig.update_xaxes(
    range=[8, 15], dtick=1, tick0=8, automargin=False,
    showgrid=False, zeroline=False,
    showline=True, linecolor=axis_gray, linewidth=2,
    ticks="outside", ticklen=8, tickwidth=1.5, tickcolor=axis_gray,
    tickfont=dict(size=21), ticklabelstandoff=0,
    minor=dict(dtick=0.2, tick0=8, ticks="inside", ticklen=9,
               tickwidth=1.5, tickcolor=axis_gray, showgrid=False),
)
fig.update_yaxes(
    range=[15, 32.97], tickvals=[15, 20, 25, 30], automargin=False,
    showgrid=True, gridcolor=axis_gray, gridwidth=1.2,
    zeroline=False,
    showline=True, linecolor=axis_gray, linewidth=2,
    ticks="outside", ticklen=10, tickwidth=1.5, tickcolor=axis_gray,
    ticklabelstandoff=10,
)

fig.write_html("out.html")
